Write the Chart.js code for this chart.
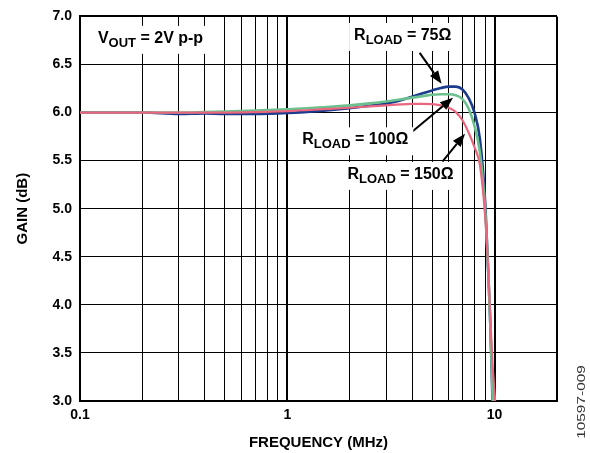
<!DOCTYPE html>
<html><head><meta charset="utf-8">
<script src="https://cdn.jsdelivr.net/npm/chart.js@4"></script>
<style>html,body{margin:0;padding:0;background:#fff;}#wrap{position:relative;width:590px;height:453px;}</style>
</head><body><div id="wrap"><canvas id="c" width="590" height="453"></canvas></div>
<script>
// ---- data ----
const freqMHz  = [0.1,0.2,0.3,0.4,0.5,0.7,1,1.5,2,2.5,3,3.5,4,4.5,5,5.5,6,6.5,7,7.5,8,8.5,9,9.25,9.5,9.75,10,10.5];
const gain75   = [6.00,6.00,5.985,5.99,5.985,5.985,5.995,6.02,6.045,6.07,6.095,6.125,6.165,6.20,6.23,6.255,6.27,6.27,6.24,6.15,6.00,5.72,5.08,4.5,3.9,3.08,2.3,1.8];
const gain100  = [6.00,6.00,6.00,6.005,6.01,6.02,6.035,6.055,6.075,6.095,6.115,6.135,6.155,6.17,6.185,6.19,6.19,6.18,6.14,6.04,5.86,5.58,5.0,4.5,3.9,3.15,2.5,2.0];
const gain150  = [6.00,6.00,6.00,6.00,6.00,6.005,6.015,6.035,6.05,6.065,6.075,6.085,6.09,6.09,6.088,6.075,6.05,6.005,5.92,5.79,5.64,5.45,4.93,4.5,3.95,3.42,3.08,2.4];
const seriesNames = ['RLOAD = 75Ω','RLOAD = 100Ω','RLOAD = 150Ω'];
const xTickValues = [0.1,0.2,0.3,0.4,0.5,0.6,0.7,0.8,0.9,1,2,3,4,5,6,7,8,9,10,20];
const xTickLabels = {'0.1':'0.1','1':'1','10':'10'};
const yMin = 3.0, yMax = 7.0, yStep = 0.5;
const xTitle = 'FREQUENCY (MHz)';
const yTitle = 'GAIN (dB)';
const figId = '10597-009';
// annotation anchors in data units (freq, gain)
const labelAnchors = [
  {main:'V', sub:'OUT',  rest:' = 2V p-p', f:0.122, g:6.725},
  {main:'R', sub:'LOAD', rest:' = 75Ω',   f:2.1,  g:6.755},
  {main:'R', sub:'LOAD', rest:' = 100Ω',  f:1.18,  g:5.67},
  {main:'R', sub:'LOAD', rest:' = 150Ω',  f:1.95,  g:5.31}
];
const arrowAnchors = [
  {f0:4.35, g0:6.62, f1:5.55, g1:6.30},
  {f0:4.0, g0:5.80, f1:6.3, g1:6.155},
  {f0:5.6, g0:5.49, f1:7.2, g1:5.78}
];

const FONT = "'Liberation Sans', Arial, sans-serif";
const toXY = (ys) => freqMHz.map((f,i)=>({x:f, y:ys[i]}));

const annotPlugin = {
  id:'annot',
  afterDatasetsDraw(chart){
    const {ctx, scales:{x, y}} = chart;
    ctx.save();
    ctx.strokeStyle = '#000'; ctx.fillStyle = '#000'; ctx.lineWidth = 2;
    arrowAnchors.forEach(a=>{
      const x0=x.getPixelForValue(a.f0), y0=y.getPixelForValue(a.g0);
      const x1=x.getPixelForValue(a.f1), y1=y.getPixelForValue(a.g1);
      const ang=Math.atan2(y1-y0,x1-x0), L=13, W=5;
      const bx=x1-L*Math.cos(ang), by=y1-L*Math.sin(ang);
      ctx.beginPath(); ctx.moveTo(x0,y0); ctx.lineTo(bx,by); ctx.stroke();
      ctx.beginPath(); ctx.moveTo(x1,y1);
      ctx.lineTo(bx+W*Math.sin(ang), by-W*Math.cos(ang));
      ctx.lineTo(bx-W*Math.sin(ang), by+W*Math.cos(ang));
      ctx.closePath(); ctx.fill();
    });
    labelAnchors.forEach(l=>{
      const px=x.getPixelForValue(l.f), py=y.getPixelForValue(l.g);
      const mainFont='bold 16px '+FONT, subFont='bold 13px '+FONT;
      ctx.font=mainFont; const w1=ctx.measureText(l.main).width;
      ctx.font=subFont; const w2=ctx.measureText(l.sub).width;
      ctx.font=mainFont; const w3=ctx.measureText(l.rest).width;
      ctx.fillStyle='#fff';
      ctx.fillRect(px-5, py-17, w1+w2+w3+10, 28);
      ctx.fillStyle='#000'; ctx.textBaseline='alphabetic'; ctx.textAlign='left';
      ctx.font=mainFont; ctx.fillText(l.main, px, py);
      ctx.font=subFont; ctx.fillText(l.sub, px+w1, py+4);
      ctx.font=mainFont; ctx.fillText(l.rest, px+w1+w2, py);
    });
    ctx.save();
    ctx.translate(582, 402); ctx.rotate(-Math.PI/2); ctx.scale(1.4,1);
    ctx.font='11px '+FONT; ctx.fillStyle='#333'; ctx.textAlign='center'; ctx.textBaseline='middle';
    ctx.fillText(figId,0,0);
    ctx.restore();
    ctx.restore();
  }
};

new Chart(document.getElementById('c'), {
  type:'line',
  data:{datasets:[
    {label:seriesNames[0], data:toXY(gain75),  borderColor:'#1b3c8d', borderWidth:2.6, pointRadius:0, cubicInterpolationMode:'monotone', order:2},
    {label:seriesNames[1], data:toXY(gain100), borderColor:'#6cc08e', borderWidth:2.6, pointRadius:0, cubicInterpolationMode:'monotone', order:1},
    {label:seriesNames[2], data:toXY(gain150), borderColor:'#e9667e', borderWidth:2.2, pointRadius:0, cubicInterpolationMode:'monotone', order:0}
  ]},
  options:{
    responsive:false, animation:false, devicePixelRatio:1,
    layout:{padding:{top:14, right:33, left:0, bottom:0}},
    plugins:{legend:{display:false}, tooltip:{enabled:false}},
    scales:{
      x:{
        type:'logarithmic', min:0.1, max:20,
        afterBuildTicks:(s)=>{ s.ticks = xTickValues.map(v=>({value:v})); },
        afterFit:(s)=>{ s.height = 52; },
        ticks:{autoSkip:false, maxRotation:0, padding:6, color:'#000',
          font:{family:FONT, size:14, weight:'bold'},
          callback:(v)=> xTickLabels[String(v)] ?? ''},
        grid:{color:'#000', drawTicks:false,
          lineWidth:(c)=> (c.tick && (c.tick.value===1 || c.tick.value===10 || c.tick.value===20)) ? 2 : 1},
        border:{color:'#000', width:2},
        title:{display:true, text:xTitle, color:'#000', font:{family:FONT, size:15, weight:'bold'}, padding:{top:0,bottom:1}}
      },
      y:{
        min:yMin, max:yMax,
        afterFit:(s)=>{ s.width = 80; },
        ticks:{stepSize:yStep, padding:8, color:'#000',
          font:{family:FONT, size:14, weight:'bold'},
          callback:(v)=> Number(v).toFixed(1)},
        grid:{color:'#000', drawTicks:false,
          lineWidth:(c)=> (c.tick && c.tick.value===7) ? 2 : 1},
        border:{color:'#000', width:2},
        title:{display:true, text:yTitle, color:'#000', font:{family:FONT, size:15, weight:'bold'}, padding:{top:14,bottom:0}}
      }
    }
  },
  plugins:[annotPlugin]
});
</script></body></html>
